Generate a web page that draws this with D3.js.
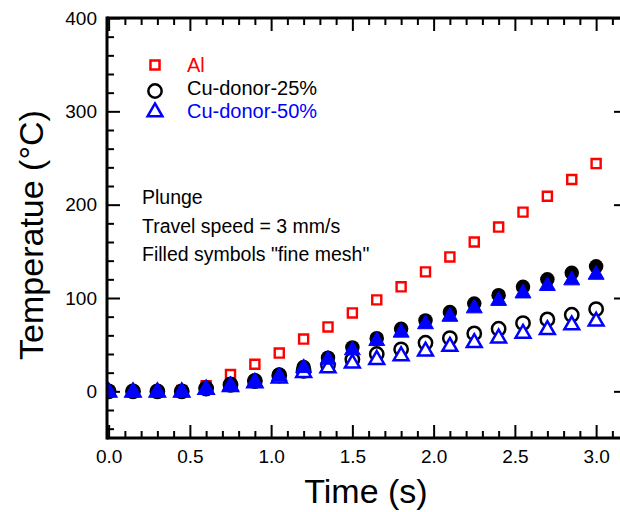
<!DOCTYPE html>
<html>
<head>
<meta charset="utf-8">
<script src="https://cdn.jsdelivr.net/npm/d3@7"></script>
<style>
  html, body { margin: 0; padding: 0; background: #fff; }
  svg { display: block; font-family: "Liberation Sans", Arial, sans-serif; }
</style>
</head>
<body>
<svg id="chart" width="620" height="512"></svg>
<script>
// ---- data ----
const time = [0, 0.15, 0.3, 0.45, 0.6, 0.75, 0.9, 1.05, 1.2, 1.35, 1.5, 1.65, 1.8, 1.95, 2.1, 2.25, 2.4, 2.55, 2.7, 2.85, 3.0];
const al          = [0, -1, -1, 1, 6, 18, 29, 41, 56, 69, 84, 98, 112, 128, 144, 160, 176, 192, 209, 227, 244];
const cu25Coarse  = [0, 0, 0, 0, 3, 7, 11, 17, 22, 28, 34, 40, 45, 52, 57, 62, 67, 73, 77, 82, 88];
const cu25Fine    = [0, 0, 0, 0, 4, 8, 12, 18, 26, 36, 47, 57, 67, 76, 85, 94, 103, 112, 120, 127, 134];
const cu50Coarse  = [-1, -1, -1, -1, 2, 5, 9, 14, 20, 25, 30, 34, 38, 43, 48, 52, 57, 62, 66, 71, 75];
const cu50Fine    = [-1, -1, -1, -1, 2, 6, 10, 16, 25, 34, 44, 54, 63, 72, 80, 89, 97, 105, 113, 119, 125];
const xMajorTicks = [0, 0.5, 1.0, 1.5, 2.0, 2.5, 3.0];
const yMajorTicks = [0, 100, 200, 300, 400];
const legendLabels = ["Al", "Cu-donor-25%", "Cu-donor-50%"];
const noteLines = ["Plunge", "Travel speed = 3 mm/s", "Filled symbols \"fine mesh\""];
const xTitle = "Time (s)";
const yTitle = "Temperatue (°C)";

// ---- layout ----
const svg = d3.select("#chart");
const L = 107, R = 627, T = 18, B = 438;
const x = d3.scaleLinear().domain([-0.01, 3.19]).range([L, R]);
const y = d3.scaleLinear().domain([-50, 400]).range([B, T]);

const xMinor = d3.range(0, 32).map(i => +(i * 0.1).toFixed(1)).filter(v => !xMajorTicks.some(m => Math.abs(m - v) < 1e-9));
const yMinor = d3.range(-40, 401, 20).filter(v => v % 100 !== 0);

const fmt1 = d3.format(".1f");

// axes: major
svg.append("g").attr("transform", `translate(0,${B})`)
  .call(d3.axisBottom(x).tickValues(xMajorTicks).tickSizeInner(-13).tickSizeOuter(0).tickPadding(12).tickFormat(fmt1))
  .call(g => g.select(".domain").remove());
svg.append("g").attr("transform", `translate(0,${B})`)
  .call(d3.axisBottom(x).tickValues(xMinor).tickSizeInner(-7).tickSizeOuter(0).tickFormat(""))
  .call(g => g.select(".domain").remove());
svg.append("g").attr("transform", `translate(0,${T})`)
  .call(d3.axisTop(x).tickValues(xMajorTicks).tickSizeInner(-13).tickSizeOuter(0).tickFormat(""))
  .call(g => g.select(".domain").remove());
svg.append("g").attr("transform", `translate(0,${T})`)
  .call(d3.axisTop(x).tickValues(xMinor).tickSizeInner(-7).tickSizeOuter(0).tickFormat(""))
  .call(g => g.select(".domain").remove());
svg.append("g").attr("transform", `translate(${L},0)`)
  .call(d3.axisLeft(y).tickValues(yMajorTicks).tickSizeInner(-13).tickSizeOuter(0).tickPadding(10).tickFormat(d3.format("d")))
  .call(g => g.select(".domain").remove());
svg.append("g").attr("transform", `translate(${L},0)`)
  .call(d3.axisLeft(y).tickValues(yMinor).tickSizeInner(-7).tickSizeOuter(0).tickFormat(""))
  .call(g => g.select(".domain").remove());
svg.append("g").attr("transform", `translate(${R},0)`)
  .call(d3.axisRight(y).tickValues(yMajorTicks).tickSizeInner(-13).tickSizeOuter(0).tickFormat(""))
  .call(g => g.select(".domain").remove());
svg.append("g").attr("transform", `translate(${R},0)`)
  .call(d3.axisRight(y).tickValues(yMinor).tickSizeInner(-7).tickSizeOuter(0).tickFormat(""))
  .call(g => g.select(".domain").remove());

svg.selectAll(".tick line").attr("stroke", "#000").attr("stroke-width", 2);
svg.selectAll(".tick text").attr("fill", "#000").style("font-size", "19px")
  .style("font-family", "\"Liberation Sans\", Arial, sans-serif");

// ---- data marks ----
svg.append("clipPath").attr("id", "clip").append("rect")
  .attr("x", L).attr("y", T).attr("width", R - L).attr("height", B - T);
const plot = svg.append("g").attr("clip-path", "url(#clip)");

const sq = d3.symbol().type(d3.symbolSquare).size(82);
const circO = d3.symbol().type(d3.symbolCircle).size(140);
const circF = d3.symbol().type(d3.symbolCircle).size(165);
const triO = d3.symbol().type(d3.symbolTriangle).size(95);
const triF = d3.symbol().type(d3.symbolTriangle).size(110);

function series(vals, path, fill, stroke, sw) {
  plot.append("g").selectAll("path").data(vals).join("path")
    .attr("d", path)
    .attr("transform", (d, i) => `translate(${x(time[i])},${y(d)})`)
    .attr("fill", fill).attr("stroke", stroke).attr("stroke-width", sw);
}
series(al, sq, "#fff", "#ff0000", 2.4);
series(cu25Coarse, circO, "#fff", "#000", 2.5);
series(cu25Fine, circF, "#000", "none", 0);
series(cu50Coarse, triO, "#fff", "#0000ff", 2.5);
series(cu50Fine, triF, "#0000ff", "#0000ff", 1);

// frame
const frame = svg.append("g").attr("stroke", "#000").attr("stroke-width", 3).attr("fill", "none");
frame.append("line").attr("x1", L).attr("x2", L).attr("y1", T - 1.5).attr("y2", B + 1.5);
frame.append("line").attr("x1", L).attr("x2", R).attr("y1", B).attr("y2", B);
frame.append("line").attr("x1", L).attr("x2", R).attr("y1", T).attr("y2", T);
frame.append("line").attr("x1", R).attr("x2", R).attr("y1", T).attr("y2", B);

// ---- legend ----
const legColors = ["#ff0000", "#000", "#0000ff"];
const legSymbols = [sq, circO, triO];
const legY = [65, 91, 112];
const legBase = [72, 95, 118];
legendLabels.forEach((lab, i) => {
  svg.append("path").attr("d", legSymbols[i])
    .attr("transform", `translate(155,${legY[i]})`)
    .attr("fill", "#fff").attr("stroke", legColors[i]).attr("stroke-width", 2.5);
  svg.append("text").attr("x", 187).attr("y", legBase[i]).attr("fill", legColors[i])
    .style("font-size", "20px").text(lab);
});

// ---- annotation ----
noteLines.forEach((t, i) => {
  svg.append("text").attr("x", 142).attr("y", 204 + i * 28.5).attr("fill", "#000")
    .style("font-size", "19.5px").text(t);
});

// ---- titles ----
svg.append("text").attr("x", 366).attr("y", 503).attr("text-anchor", "middle")
  .style("font-size", "34px").attr("fill", "#000").text(xTitle);
svg.append("text").attr("transform", "translate(43,235) rotate(-90)").attr("text-anchor", "middle")
  .style("font-size", "34px").attr("fill", "#000").text(yTitle);
</script>
</body>
</html>
